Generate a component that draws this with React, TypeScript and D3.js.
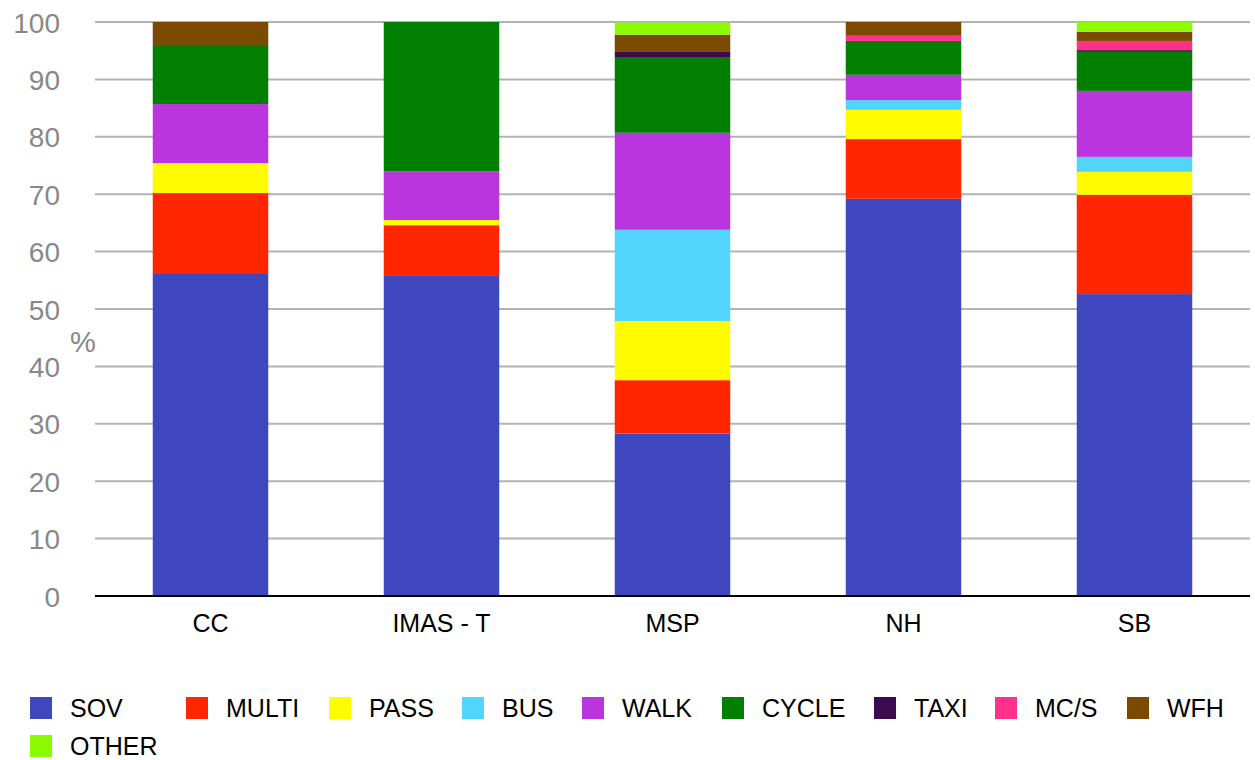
import React from "react";
import * as d3 from "d3";

const categories = ["CC", "IMAS - T", "MSP", "NH", "SB"];
const modes = ["SOV", "MULTI", "PASS", "BUS", "WALK", "CYCLE", "TAXI", "MC/S", "WFH", "OTHER"];
const colors = ["#3f47bf", "#ff2600", "#fffb00", "#52d5fc", "#bb35df", "#017f01", "#3d0a4f", "#ff318b", "#7b4a01", "#8efa00"];

// values per mode, in category order
const SOV = [56.1, 55.9, 28.3, 69.2, 52.6];
const MULTI = [14.1, 8.7, 9.3, 10.4, 17.3];
const PASS = [5.2, 0.9, 10.3, 5.1, 4.0];
const BUS = [0, 0, 15.9, 1.7, 2.6];
const WALK = [10.3, 8.5, 16.9, 4.4, 11.5];
const CYCLE = [10.3, 26.0, 13.2, 5.9, 6.8];
const TAXI = [0, 0, 1.0, 0, 0.3];
const MCS = [0, 0, 0, 0.9, 1.6];
const WFH = [4.0, 0, 2.9, 2.4, 1.6];
const OTHER = [0, 0, 2.1, 0, 1.7];

const yTicks = [0, 10, 20, 30, 40, 50, 60, 70, 80, 90, 100];

const seriesValues = [SOV, MULTI, PASS, BUS, WALK, CYCLE, TAXI, MCS, WFH, OTHER];

// legend layout (not data)
const LEGEND_ROW1_X = [30, 186, 329, 462, 582, 722, 874, 995, 1127];

const W = 1255;
const H = 760;
const FONT = "'Liberation Sans', Arial, Helvetica, sans-serif";

export default function App() {
  const table = categories.map((c, i) => {
    const row: any = { cat: c };
    modes.forEach((m, j) => (row[m] = seriesValues[j][i]));
    return row;
  });
  const stacked = d3.stack().keys(modes)(table);

  const x = d3
    .scaleBand()
    .domain(categories)
    .range([95, 1250])
    .paddingInner(0.5)
    .paddingOuter(0.25);
  const y = d3.scaleLinear().domain([0, 100]).range([596, 22]);

  const legendItems = modes.map((m, i) => {
    const row = i < 9 ? 0 : 1;
    const sx = i < 9 ? LEGEND_ROW1_X[i] : LEGEND_ROW1_X[0];
    return { m, color: colors[i], sx, row };
  });

  return (
    <svg
      width={W}
      height={H}
      style={{ position: "absolute", left: 0, top: 0, background: "#fff" }}
      fontFamily={FONT}
    >
      {/* gridlines */}
      {yTicks.map((t) =>
        t === 0 ? null : (
          <line key={t} x1={95} x2={1250} y1={y(t)} y2={y(t)} stroke="#b3b3b3" strokeWidth={2} />
        )
      )}
      {/* bars */}
      {stacked.map((s, j) => (
        <g key={modes[j]} fill={colors[j]}>
          {s.map((d, i) =>
            d[1] - d[0] > 0 ? (
              <rect
                key={i}
                x={x(categories[i])!}
                width={x.bandwidth()}
                y={y(d[1])}
                height={y(d[0]) - y(d[1])}
              />
            ) : null
          )}
        </g>
      ))}
      {/* baseline */}
      <line x1={95} x2={1250} y1={y(0)} y2={y(0)} stroke="#000" strokeWidth={2} />
      {/* y tick labels */}
      {yTicks.map((t) => (
        <text
          key={t}
          x={60}
          y={y(t) + 1}
          textAnchor="end"
          dominantBaseline="central"
          fontSize={28}
          fill="#888"
        >
          {t}
        </text>
      ))}
      <text x={83} y={342} textAnchor="middle" dominantBaseline="central" fontSize={29} fill="#888">
        %
      </text>
      {/* x labels */}
      {categories.map((c) => (
        <text
          key={c}
          x={x(c)! + x.bandwidth() / 2}
          y={632}
          textAnchor="middle"
          fontSize={25}
          fill="#000"
        >
          {c}
        </text>
      ))}
      {/* legend */}
      {legendItems.map((it) => {
        const cy = it.row === 0 ? 708 : 746;
        return (
          <g key={it.m}>
            <rect x={it.sx} y={cy - 11} width={22} height={22} fill={it.color} />
            <text x={it.sx + 40} y={cy} dominantBaseline="central" fontSize={25} fill="#000">
              {it.m}
            </text>
          </g>
        );
      })}
    </svg>
  );
}
